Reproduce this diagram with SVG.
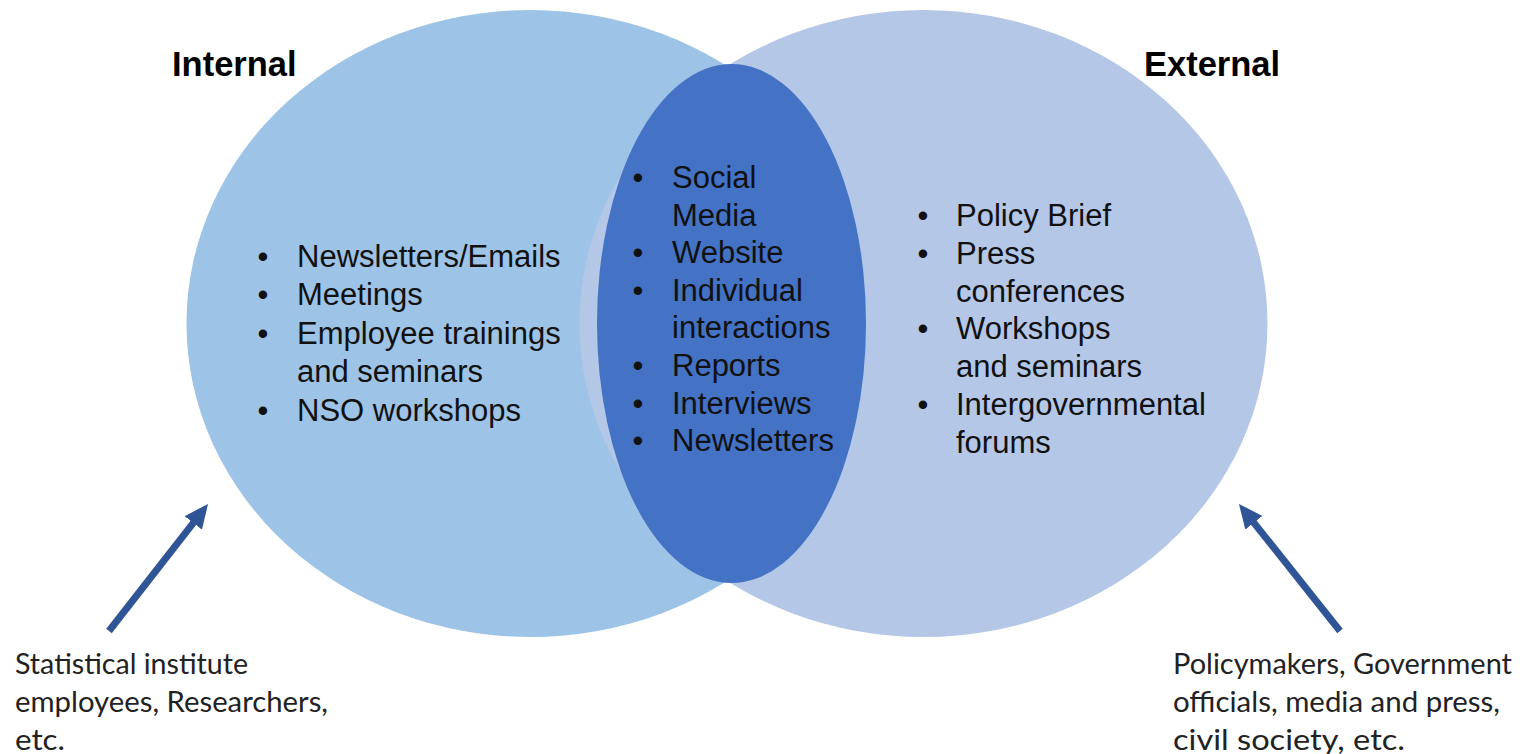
<svg xmlns="http://www.w3.org/2000/svg" width="1526" height="754" viewBox="0 0 1526 754">
<style>
  .list { font-family: "Liberation Sans", Arial, sans-serif; font-size: 31px; fill: #111; }
  .bul { font-family: "Liberation Sans", Arial, sans-serif; font-size: 31px; fill: #111; text-anchor: middle; }
  .title { font-family: "Liberation Sans", Arial, sans-serif; font-size: 34.5px; font-weight: bold; fill: #000; }
  .note { font-family: Lato, "Open Sans", sans-serif; font-size: 28px; fill: #222; }
  .arrow { stroke: #2F5597; stroke-width: 7; fill: none; }
</style>
<defs>
  <marker id="head" markerUnits="userSpaceOnUse" markerWidth="24" markerHeight="22" viewBox="0 0 24 22" refX="9" refY="11" orient="auto">
    <path d="M0,0 L24,11 L0,22 Z" fill="#2F5597"/>
  </marker>
</defs>
<rect width="1526" height="754" fill="#ffffff"/>

<g id="internal">
  <ellipse cx="530.5" cy="323.5" rx="344" ry="313.5" fill="#9DC3E6"/>
</g>
<g id="external">
  <ellipse cx="923.5" cy="323.5" rx="344" ry="313.5" fill="#B4C7E7"/>
</g>
<g id="overlap">
  <ellipse cx="731.5" cy="323.5" rx="134.5" ry="259.5" fill="#4472C4"/>
</g>

<g id="internal-text">
  <text class="title" x="172" y="76">Internal</text>
  <text class="bul" x="263" y="267">•</text>
  <text class="list" x="297" y="267">Newsletters/Emails</text>
  <text class="bul" x="263" y="305.4">•</text>
  <text class="list" x="297" y="305.4">Meetings</text>
  <text class="bul" x="263" y="343.8">•</text>
  <text class="list" x="297" y="343.8">Employee trainings</text>
  <text class="list" x="297" y="382.2">and seminars</text>
  <text class="bul" x="263" y="420.6">•</text>
  <text class="list" x="297" y="420.6">NSO workshops</text>
</g>

<g id="overlap-text">
  <text class="bul" x="638" y="188">•</text>
  <text class="list" x="672" y="188">Social</text>
  <text class="list" x="672" y="225.6">Media</text>
  <text class="bul" x="638" y="263.2">•</text>
  <text class="list" x="672" y="263.2">Website</text>
  <text class="bul" x="638" y="300.8">•</text>
  <text class="list" x="672" y="300.8">Individual</text>
  <text class="list" x="672" y="338.4">interactions</text>
  <text class="bul" x="638" y="376">•</text>
  <text class="list" x="672" y="376">Reports</text>
  <text class="bul" x="638" y="413.6">•</text>
  <text class="list" x="672" y="413.6">Interviews</text>
  <text class="bul" x="638" y="451.2">•</text>
  <text class="list" x="672" y="451.2">Newsletters</text>
</g>

<g id="external-text">
  <text class="title" x="1144" y="76">External</text>
  <text class="bul" x="923" y="226">•</text>
  <text class="list" x="956" y="226">Policy Brief</text>
  <text class="bul" x="923" y="263.8">•</text>
  <text class="list" x="956" y="263.8">Press</text>
  <text class="list" x="956" y="301.6">conferences</text>
  <text class="bul" x="923" y="339.4">•</text>
  <text class="list" x="956" y="339.4">Workshops</text>
  <text class="list" x="956" y="377.2">and seminars</text>
  <text class="bul" x="923" y="415">•</text>
  <text class="list" x="956" y="415">Intergovernmental</text>
  <text class="list" x="956" y="452.8">forums</text>
</g>

<g id="connectors">
  <path class="arrow" d="M109,631 L198.8,515.8" marker-end="url(#head)"/>
  <path class="arrow" d="M1340,631 L1248.3,515.7" marker-end="url(#head)"/>
</g>

<g id="internal-audience">
  <text class="note" x="15" y="674" textLength="233" lengthAdjust="spacingAndGlyphs">Statistical institute</text>
  <text class="note" x="15" y="712" textLength="313" lengthAdjust="spacingAndGlyphs">employees, Researchers,</text>
  <text class="note" x="15" y="750" textLength="50" lengthAdjust="spacingAndGlyphs">etc.</text>
</g>
<g id="external-audience">
  <text class="note" x="1173" y="674" textLength="339" lengthAdjust="spacingAndGlyphs">Policymakers, Government</text>
  <text class="note" x="1173" y="712" textLength="327" lengthAdjust="spacingAndGlyphs">officials, media and press,</text>
  <text class="note" x="1173" y="750" textLength="232" lengthAdjust="spacingAndGlyphs">civil society, etc.</text>
</g>
</svg>
